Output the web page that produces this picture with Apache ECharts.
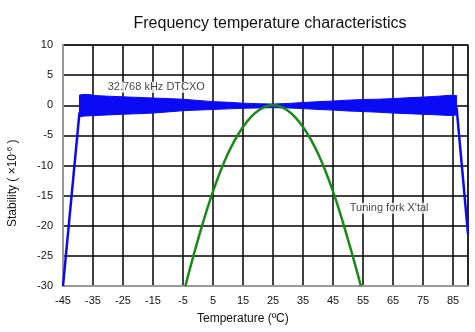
<!DOCTYPE html>
<html><head><meta charset="utf-8">
<script src="https://cdn.jsdelivr.net/npm/echarts@6/dist/echarts.min.js"></script>
<style>html,body{margin:0;padding:0;background:#fff}#c{width:475px;height:332px}</style>
</head><body><div id="c"></div>
<script>
const xTicks = [-45,-35,-25,-15,-5,5,15,25,35,45,55,65,75,85];
const yTicks = [10,5,0,-5,-10,-15,-20,-25,-30];
// DTCXO band (oscillating stability envelope)
const bandT =     [-39.5,-38,-36,-34,-30,-25,-20,-15,-10,-5,0,5,10,15,20,25,30,35,40,45,50,55,60,65,70,75,80,84,86.2];
const bandUpper = [1.7,1.8,1.75,1.6,1.5,1.4,1.3,1.2,1.1,1.0,0.8,0.6,0.5,0.35,0.25,0.2,0.3,0.45,0.6,0.7,0.85,0.95,1.0,1.1,1.25,1.35,1.5,1.65,1.6];
const bandLower = [-1.9,-1.8,-1.75,-1.7,-1.6,-1.5,-1.4,-1.3,-1.1,-0.9,-0.8,-0.7,-0.6,-0.5,-0.45,-0.4,-0.45,-0.55,-0.7,-0.8,-0.95,-1.05,-1.15,-1.3,-1.4,-1.5,-1.6,-1.7,-1.6];
const rampLeft = [[-45,-30],[-39.5,-1.2]];
const rampRight = [[86.2,-0.4],[90,-21.3]];
// Tuning fork crystal
const forkT = [-4.2,0,5,10,15,20,25,30,35,40,45,50,54.3];
const forkS = [-30,-22.3,-14.3,-8.0,-3.6,-0.9,0,-0.9,-3.6,-8.0,-14.3,-22.3,-30];
const labels = [
  {name:'32.768 kHz DTCXO', value:[-30.1, 3.0]},
  {name:"Tuning fork X'tal", value:[50.6, -17.1]}
];
const X_MIN = -45, X_MAX = 90;

const chart = echarts.init(document.getElementById('c'));
const FONT = '"Liberation Sans", Arial, sans-serif';
chart.setOption({
  animation:false,
  title:{text:'Frequency temperature characteristics', left:265, top:11, textAlign:'center',
    textStyle:{fontFamily:FONT, fontSize:16, fontWeight:'normal', color:'#111'}},
  grid:{left:63, right:7, top:45, bottom:46, show:true, borderColor:'#999', borderWidth:2, backgroundColor:'transparent'},
  xAxis:[
    {type:'value', min:X_MIN, max:X_MAX,
      axisLine:{show:true, onZero:false, lineStyle:{color:'#999', width:2}}, axisTick:{show:false},
      axisLabel:{show:false}, splitLine:{show:false}},
    // gridline / label axis: offset so ticks fall on -45, -35, ... 85
    {type:'value', min:0, max:X_MAX-X_MIN, interval:10, position:'bottom',
      axisLine:{show:false}, axisTick:{show:false},
      axisLabel:{fontFamily:FONT, fontSize:11, color:'#111', margin:9,
        formatter:v=>{const t=v+X_MIN; return xTicks.includes(t)? String(t):'';}},
      splitLine:{show:true, lineStyle:{color:'#000', width:1.5}}}
  ],
  yAxis:{type:'value', min:-30, max:10, interval:5,
    axisLine:{show:true, onZero:false, lineStyle:{color:'#999', width:2}}, axisTick:{show:false},
    axisLabel:{fontFamily:FONT, fontSize:11, color:'#111', margin:10,
      formatter:v=> yTicks.includes(v)? String(v):''},
    splitLine:{show:true, lineStyle:{color:'#000', width:1.5}}},
  graphic:[
    {type:'text', left:197, top:313, style:{text:'Temperature (ºC)', font:'12px '+FONT, fill:'#111'}},
    {type:'text', x:6, y:227, rotation:Math.PI/2,
      style:{text:'Stability ( ×10{s|-6} )', font:'12px '+FONT, fill:'#111', textVerticalAlign:'top',
        rich:{s:{fontSize:8, fontFamily:FONT, verticalAlign:'top', padding:[0,0,6,0]}}}}
  ],
  series:[
    {type:'custom', coordinateSystem:'cartesian2d', xAxisIndex:0, data:[[0,0]], z:3, silent:true,
      renderItem:function(params, api){
        const pts = [];
        for (let i=0;i<bandT.length;i++) pts.push(api.coord([bandT[i], bandUpper[i]]));
        for (let i=bandT.length-1;i>=0;i--) pts.push(api.coord([bandT[i], bandLower[i]]));
        return {type:'polygon', shape:{points:pts}, style:{fill:'#0a0af5', stroke:'#0a0af5', lineWidth:1}};
      }},
    {type:'line', xAxisIndex:0, data:rampLeft, showSymbol:false, z:3, lineStyle:{color:'#0a0af5', width:2.5}},
    {type:'line', xAxisIndex:0, data:rampRight, showSymbol:false, z:3, lineStyle:{color:'#0a0af5', width:2.5}},
    {type:'line', xAxisIndex:0, data:forkT.map((t,i)=>[t, forkS[i]]), smooth:0.4, showSymbol:false, z:4,
      lineStyle:{color:'#178a17', width:2.5}},
    {type:'scatter', xAxisIndex:0, data:labels, symbolSize:0, z:5, silent:true,
      label:{show:true, position:'right', distance:0, formatter:p=>p.name,
        fontFamily:FONT, fontSize:11, color:'#111', backgroundColor:'#fff'}}
  ]
});
</script></body></html>
